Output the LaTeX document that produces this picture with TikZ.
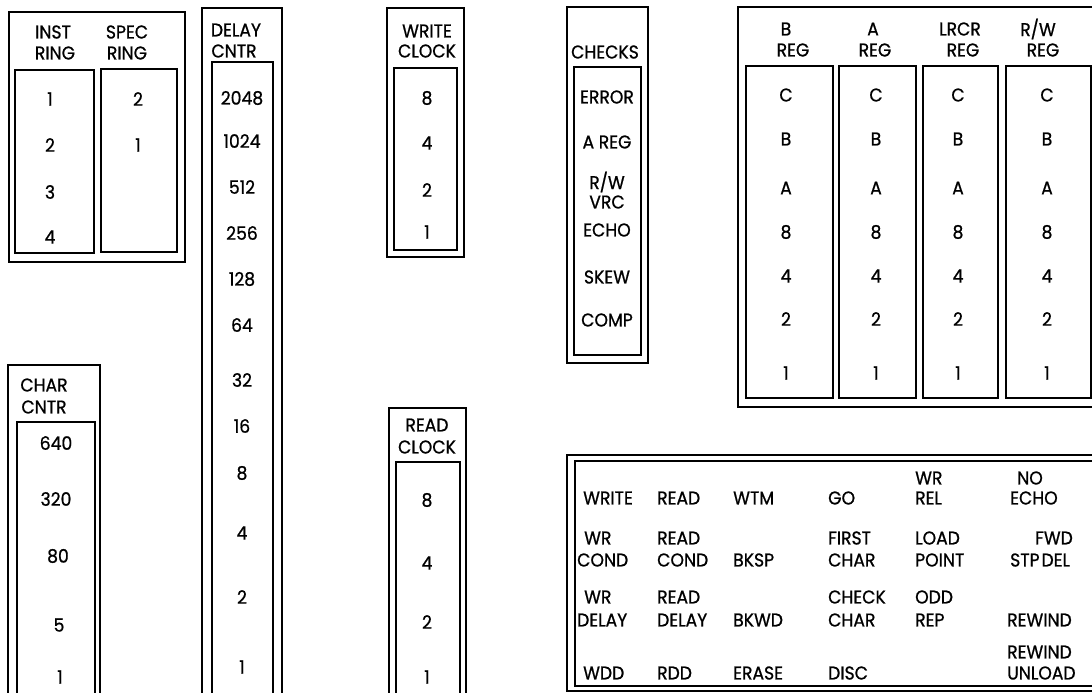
\documentclass[tikz,border=0pt]{standalone}
\usepackage{fontspec}
\setmainfont{Poppins}[FakeStretch=0.93,FakeBold=0.8]
\begin{document}
\begin{tikzpicture}[x=1pt,y=-1pt,
  outer/.style={draw=black,line width=2.5pt},
  inner/.style={draw=black,line width=1.2pt},
  t/.style={inner sep=0pt,font=\fontsize{18.5}{20}\selectfont},
  tl/.style={t,anchor=west}]
\useasboundingbox[fill=white] (0,0) rectangle (1092,693);
\clip (0,0) rectangle (1092,693);

% INST / SPEC RING
\draw[outer] (9,12) rectangle (185,262);
\draw[inner] (15,70) rectangle (94,253);
\draw[inner] (101,69) rectangle (177,252);
\node[t] (inst1) at (53,32) {INST};
\node[t] (inst2) at (55,53) {RING};
\node[t] (spec1) at (127,32) {SPEC};
\node[t] (spec2) at (127,53) {RING};
\foreach \v/\y in {1/99,2/145,3/192,4/237} \node[t] (ir\v) at (50,\y) {\v};
\node[t] (sr2) at (138,99) {2};
\node[t] (sr1) at (138,145) {1};

% DELAY CNTR
\draw[outer] (202,8) rectangle (282,720);
\draw[inner] (212,62) rectangle (273,710);
\node[t] (dl1) at (236,30) {DELAY};
\node[t] (dl2) at (234,51) {CNTR};
\foreach \v/\y in {2048/98,1024/141,512/187,256/233,128/279,64/325,32/380,16/426,8/473,4/533,2/597,1/667}
  \node[t] (dv\v) at (242,\y) {\v};

% CHAR CNTR
\draw[outer] (8,365) rectangle (100,720);
\draw[inner] (17,422) rectangle (95,710);
\node[t] (cc1) at (44,385) {CHAR};
\node[t] (cc2) at (44,407) {CNTR};
\foreach \v/\y/\x in {640/443/56,320/499/56,80/556/58,5/625/59,1/677/60}
  \node[t] (cv\v) at (\x,\y) {\v};

% WRITE CLOCK
\draw[outer] (387,8) rectangle (464,257);
\draw[inner] (394,68) rectangle (457,250);
\node[t] (wc1) at (427,31) {WRITE};
\node[t] (wc2) at (427,51) {CLOCK};
\foreach \v/\y in {8/98,4/143,2/190,1/232} \node[t] (wv\v) at (427,\y) {\v};

% READ CLOCK
\draw[outer] (389,408) rectangle (466,720);
\draw[inner] (396,462) rectangle (460,710);
\node[t] (rc1) at (427,425) {READ};
\node[t] (rc2) at (427,447) {CLOCK};
\foreach \v/\y in {8/500,4/563,2/622,1/677} \node[t] (rv\v) at (427,\y) {\v};

% CHECKS
\draw[outer] (567,7) rectangle (648,363);
\draw[inner] (574,67) rectangle (641,355);
\node[t] (ck) at (605,52) {CHECKS};
\node[t] (ck1) at (607,97) {ERROR};
\node[t] (ck2) at (607,142) {A REG};
\node[t] (ck3) at (607,182) {R/W};
\node[t] (ck4) at (607,202) {VRC};
\node[t] (ck5) at (607,230) {ECHO};
\node[t] (ck6) at (607,277) {SKEW};
\node[t] (ck7) at (607,320) {COMP};

% REGISTERS
\draw[outer] (738,7) rectangle (1110,407);
\draw[inner] (746,66) rectangle (833,398);
\draw[inner] (839,66) rectangle (916,398);
\draw[inner] (923,66) rectangle (998,398);
\draw[inner] (1006,66) rectangle (1091,398);
\node[t] (bh1) at (786,29) {B};   \node[t] (bh2) at (793,50) {REG};
\node[t] (ah1) at (873,29) {A};   \node[t] (ah2) at (875,50) {REG};
\node[t] (lh1) at (960,29) {LRCR};\node[t] (lh2) at (963,50) {REG};
\node[t] (rh1) at (1038,29) {R/W}; \node[t] (rh2) at (1043,50) {REG};
\foreach \c/\x in {b/786,a/876,l/958,r/1047}
  \foreach \v/\y in {C/95,B/139,A/188,8/232,4/276,2/319,1/373}
    \node[t] (\c\v) at (\x,\y) {\v};

% CONTROL PANEL
\draw[outer] (567,455) rectangle (1110,691);
\draw[inner] (575,461) rectangle (1110,686);
\node[tl] (p11) at (583,498) {WRITE};
\node[tl] (p12) at (657,498) {READ};
\node[tl] (p13) at (733,498) {WTM};
\node[tl] (p14) at (828,498) {GO};
\node[tl] (p15a) at (915,478) {WR};
\node[tl] (p15b) at (915,498) {REL};
\node[tl] (p16a) at (1017,478) {NO};
\node[tl] (p16b) at (1010,498) {ECHO};
\node[tl] (p21a) at (584,538) {WR};
\node[tl] (p21b) at (577,560) {COND};
\node[tl] (p22a) at (657,538) {READ};
\node[tl] (p22b) at (657,560) {COND};
\node[tl] (p23) at (733,560) {BKSP};
\node[tl] (p24a) at (828,538) {FIRST};
\node[tl] (p24b) at (828,560) {CHAR};
\node[tl] (p25a) at (915,538) {LOAD};
\node[tl] (p25b) at (915,560) {POINT};
\node[tl] (p26a) at (1035,538) {FWD};
\node[tl] (p26b) at (1010,560) {STP\hspace{2pt}DEL};
\node[tl] (p31a) at (584,597) {WR};
\node[tl] (p31b) at (577,620) {DELAY};
\node[tl] (p32a) at (657,597) {READ};
\node[tl] (p32b) at (657,620) {DELAY};
\node[tl] (p33) at (733,620) {BKWD};
\node[tl] (p34a) at (828,597) {CHECK};
\node[tl] (p34b) at (828,620) {CHAR};
\node[tl] (p35a) at (915,597) {ODD};
\node[tl] (p35b) at (915,620) {REP};
\node[tl] (p36) at (1007,620) {REWIND};
\node[tl] (p41) at (583,673) {WDD};
\node[tl] (p42) at (657,673) {RDD};
\node[tl] (p43) at (733,673) {ERASE};
\node[tl] (p44) at (828,673) {DISC};
\node[tl] (p46a) at (1007,652) {REWIND};
\node[tl] (p46b) at (1007,673) {UNLOAD};
\end{tikzpicture}
\end{document}
